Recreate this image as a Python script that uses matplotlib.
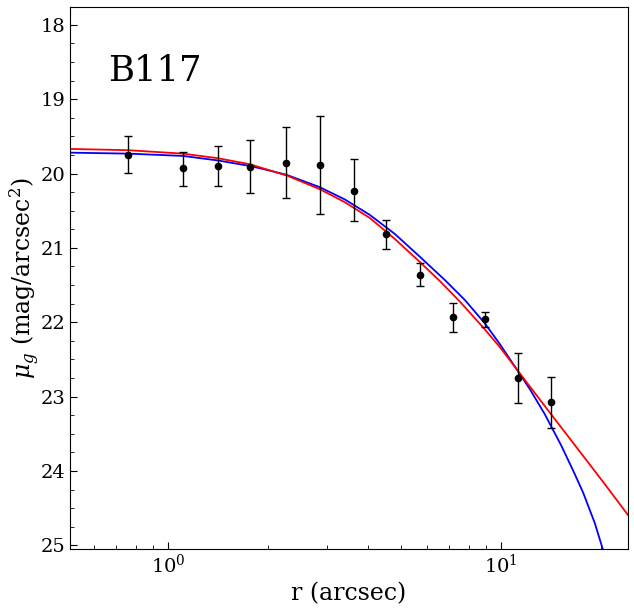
import matplotlib
matplotlib.use('Agg')
import matplotlib.pyplot as plt
from matplotlib.ticker import MultipleLocator

plt.rcParams['font.family'] = 'DejaVu Serif'
plt.rcParams['mathtext.fontset'] = 'dejavuserif'

# data points
r_obs = [0.758, 1.11, 1.41, 1.76, 2.26, 2.86, 3.62, 4.52, 5.71, 7.18, 8.96, 11.25, 14.1]
mu_obs = [19.75, 19.92, 19.90, 19.91, 19.86, 19.88, 20.23, 20.81, 21.36, 21.93, 21.96, 22.75, 23.07]
err_lo = [0.25, 0.21, 0.27, 0.36, 0.49, 0.66, 0.42, 0.19, 0.16, 0.19, 0.10, 0.33, 0.34]
err_hi = [0.24, 0.25, 0.27, 0.35, 0.47, 0.66, 0.41, 0.20, 0.15, 0.20, 0.11, 0.34, 0.35]

# red model curve
r_red = [0.5077, 0.7585, 1.109, 1.413, 1.763, 2.025, 2.277, 2.861, 3.401, 4.043, 4.805,
         5.712, 6.559, 7.532, 8.851, 9.931, 11.15, 14.03, 17.27, 20.53, 24.12]
mu_red = [19.669, 19.686, 19.732, 19.794, 19.875, 19.958, 20.027, 20.211, 20.386, 20.598, 20.880,
          21.190, 21.446, 21.722, 22.071, 22.334, 22.630, 23.215, 23.740, 24.178, 24.595]

# blue model curve
r_blue = [0.5077, 0.7585, 1.109, 1.413, 1.763, 2.025, 2.277, 2.861, 3.401, 4.043, 4.805,
          5.712, 6.789, 7.798, 8.954, 9.931, 11.15, 12.22, 13.55, 15.22, 16.68, 17.67, 19.16, 20.29]
mu_blue = [19.719, 19.732, 19.763, 19.824, 19.898, 19.961, 20.019, 20.184, 20.349, 20.557, 20.813,
           21.119, 21.432, 21.701, 22.015, 22.294, 22.630, 22.899, 23.236, 23.666, 24.043, 24.292, 24.703, 25.067]

fig = plt.figure(figsize=(6.34, 6.08), dpi=100)
ax = fig.add_axes([70/634, 59/608, 558/634, 542/608])

ax.plot(r_blue, mu_blue, color='blue', lw=1.3)
ax.plot(r_red, mu_red, color='red', lw=1.3)
ax.errorbar(r_obs, mu_obs, yerr=[err_lo, err_hi], fmt='o', color='black',
            ms=4.5, elinewidth=1, capsize=3, capthick=1)

ax.set_xscale('log')
ax.set_xlim(0.508, 24.1)
ax.set_ylim(25.05, 17.76)
ax.yaxis.set_major_locator(MultipleLocator(1))
ax.yaxis.set_minor_locator(MultipleLocator(0.25))
ax.tick_params(which='both', direction='in', labelsize=14)
ax.tick_params(which='major', length=5)
ax.tick_params(which='minor', length=3)

ax.set_xlabel('r (arcsec)', fontsize=17)
ax.set_ylabel(r'$\mu_g$ (mag/arcsec$^2$)', fontsize=17, labelpad=-1)
ax.text(0.068, 0.864, 'B117', transform=ax.transAxes, fontsize=25.5)

fig.savefig('out.png', dpi=100)
